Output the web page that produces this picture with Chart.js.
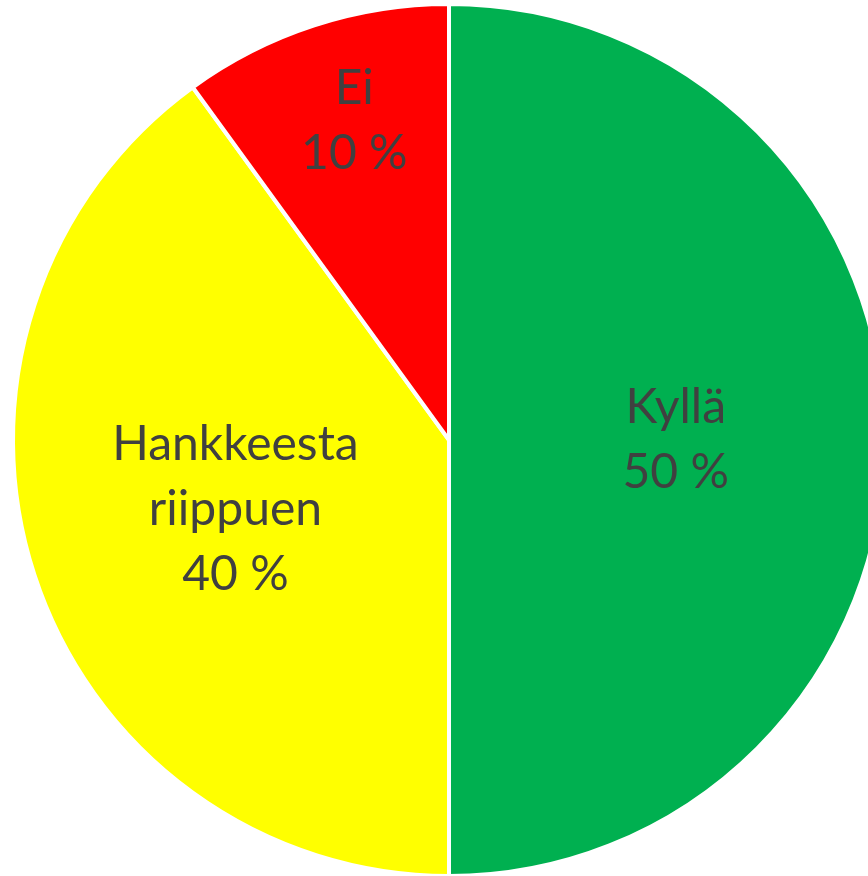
<!DOCTYPE html>
<html>
<head>
<meta charset="utf-8">
<script src="https://cdn.jsdelivr.net/npm/chart.js@4"></script>
<style>
    html, body { margin: 0; padding: 0; background: #ffffff; overflow: hidden; }
    #wrap { position: absolute; left: 0; top: 0; width: 898px; height: 880px; }
</style>
</head>
<body>
<div id="wrap"><canvas id="pieChart"></canvas></div>
<script>
// Chart data
const categories = ['Kyllä', ['Hankkeesta', 'riippuen'], 'Ei'];
const shares = [50, 40, 10];
const sliceColors = ['#00B050', '#FFFF00', '#FF0000'];

// Draws the category name and percentage inside each slice
const sliceLabels = {
    id: 'sliceLabels',
    afterDatasetsDraw(chart, args, opts) {
        const ctx = chart.ctx;
        const meta = chart.getDatasetMeta(0);
        ctx.save();
        ctx.fillStyle = opts.color;
        ctx.font = opts.font;
        ctx.textAlign = 'center';
        ctx.textBaseline = 'middle';
        meta.data.forEach((arc, i) => {
            const p = arc.getProps(['x', 'y', 'startAngle', 'endAngle', 'outerRadius']);
            const mid = (p.startAngle + p.endAngle) / 2;
            const r = p.outerRadius * opts.radius[i];
            const cx = p.x + Math.cos(mid) * r + opts.shiftX[i];
            const cy = p.y + Math.sin(mid) * r;
            const name = chart.data.labels[i];
            const lines = (Array.isArray(name) ? name : [name]).concat(shares[i] + ' %');
            const top = cy - (lines.length - 1) * opts.lineHeight / 2;
            lines.forEach((t, k) => ctx.fillText(t, cx, top + k * opts.lineHeight));
        });
        ctx.restore();
    }
};

new Chart(document.getElementById('pieChart'), {
    type: 'pie',
    data: {
        labels: categories,
        datasets: [{
            data: shares,
            backgroundColor: sliceColors,
            borderColor: '#ffffff',
            borderWidth: 4
        }]
    },
    options: {
        responsive: true,
        maintainAspectRatio: false,
        animation: false,
        layout: { padding: 2 },
        plugins: {
            legend: { display: false },
            tooltip: { enabled: false },
            sliceLabels: {
                color: '#404040',
                font: '48px Lato',
                lineHeight: 65,
                radius: [0.52, 0.515, 0.77],
                shiftX: [0, 0, 9]
            }
        }
    },
    plugins: [sliceLabels]
});
</script>
</body>
</html>
